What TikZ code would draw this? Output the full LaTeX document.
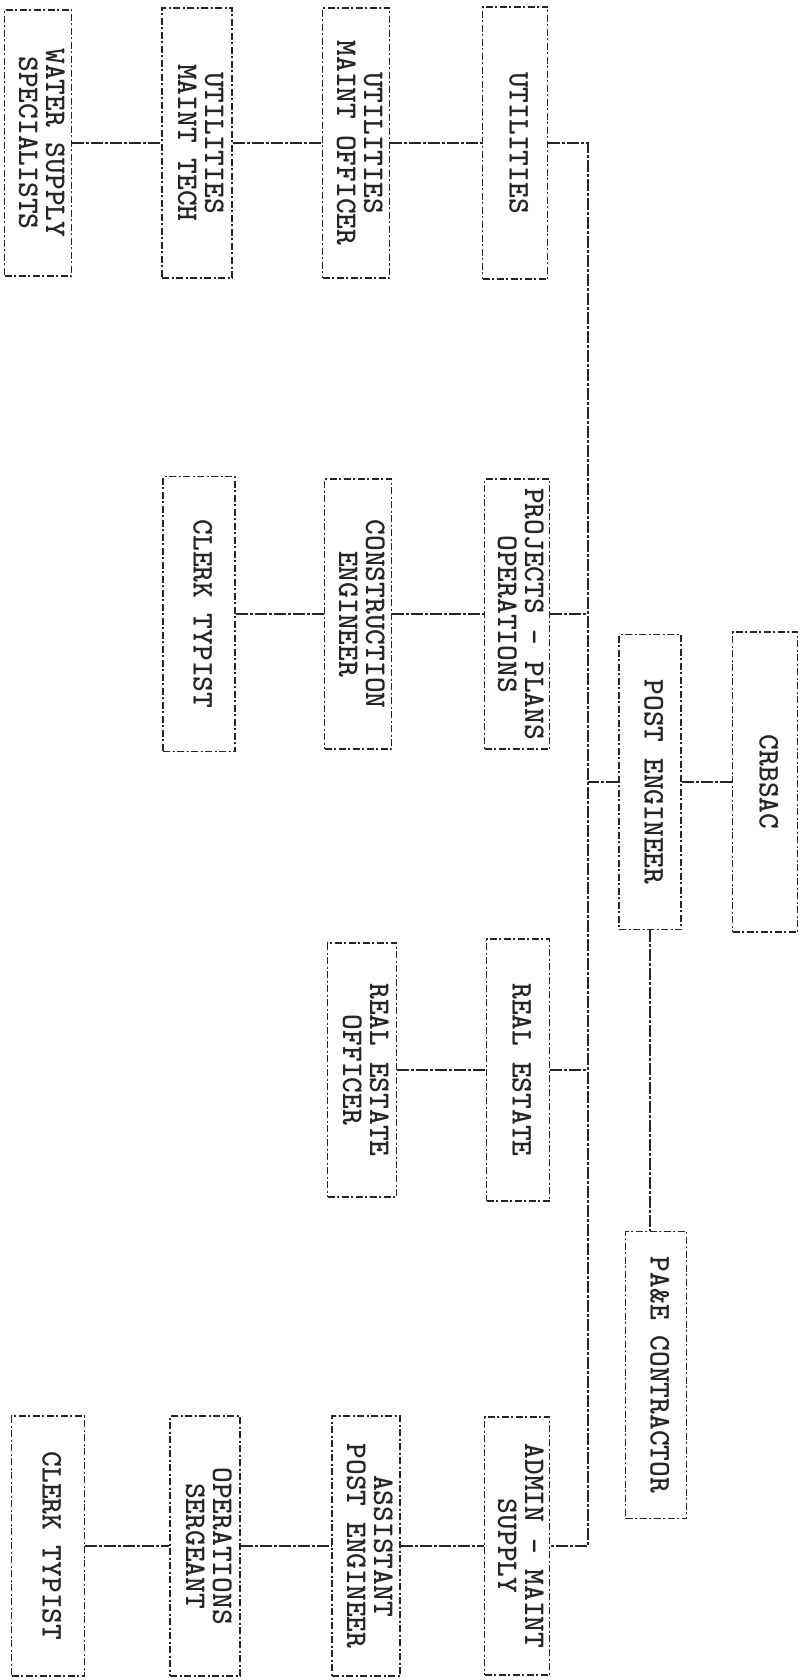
\documentclass[tikz,border=0pt]{standalone}
\usepackage{graphicx}
\newcommand{\rtxt}[1]{\rotatebox{-90}{\begin{tabular}{@{}c@{}}#1\end{tabular}}}
\begin{document}
\begin{tikzpicture}[x=1pt,y=-1pt,
  box/.style={draw=black!85, line width=1.4pt, dash pattern=on 7pt off 2.5pt on 2pt off 2.5pt,
    inner sep=0pt, font=\fontsize{30}{27}\selectfont\ttfamily\bfseries, text=black!85},
  link/.style={draw=black!85, line width=1.5pt, dash pattern=on 12pt off 2pt on 3pt off 2pt}]
\fill[white] (0,0) rectangle (810,1680);
\useasboundingbox (0,0) rectangle (810,1680);
% top row
\node[box, minimum width=67pt, minimum height=266pt] (water) at (38,143) {\rtxt{WATER SUPPLY\\SPECIALISTS}};
\node[box, minimum width=70pt, minimum height=270pt] (umt) at (197,143) {\rtxt{UTILITIES\\MAINT TECH}};
\node[box, minimum width=67pt, minimum height=270pt] (umo) at (356,143) {\rtxt{UTILITIES\\MAINT OFFICER}};
\node[box, minimum width=65pt, minimum height=272pt] (util) at (515,143) {\rtxt{UTILITIES}};
% second row
\node[box, minimum width=72pt, minimum height=275pt] (clerka) at (199,614) {\rtxt{CLERK TYPIST}};
\node[box, minimum width=67pt, minimum height=270pt] (constr) at (358,614) {\rtxt{CONSTRUCTION\\ENGINEER}};
\node[box, minimum width=65pt, minimum height=270pt] (proj) at (517,614) {\rtxt{PROJECTS - PLANS\\OPERATIONS}};
% head
\node[box, minimum width=62pt, minimum height=295pt] (pe) at (650,782) {\rtxt{POST ENGINEER}};
\node[box, minimum width=65pt, minimum height=300pt] (crbsac) at (765,782) {\rtxt{CRBSAC}};
% real estate row
\node[box, minimum width=69pt, minimum height=254pt] (reo) at (362,1070) {\rtxt{REAL ESTATE\\OFFICER}};
\node[box, minimum width=63pt, minimum height=262pt] (re) at (518,1070) {\rtxt{REAL ESTATE}};
\node[box, minimum width=61pt, minimum height=287pt] (pae) at (656,1375) {\rtxt{PA\&E CONTRACTOR}};
% bottom row
\node[box, minimum width=73pt, minimum height=260pt] (clerkb) at (48,1546) {\rtxt{CLERK TYPIST}};
\node[box, minimum width=70pt, minimum height=260pt] (ops) at (205,1546) {\rtxt{OPERATIONS\\SERGEANT}};
\node[box, minimum width=68pt, minimum height=260pt] (asst) at (366,1546) {\rtxt{ASSISTANT\\POST ENGINEER}};
\node[box, minimum width=65pt, minimum height=258pt] (admin) at (517,1546) {\rtxt{ADMIN - MAINT\\SUPPLY}};
% bus
\coordinate (bustop) at (588,143);
\coordinate (busbot) at (588,1546);
\draw[link] (util.east) -- (bustop) -- (busbot) -- (admin.east);
\draw[link] (proj.east) -- (proj.east -| bustop);
\draw[link] (re.east) -- (re.east -| bustop);
\draw[link] (pe.west) -- (pe.west -| bustop);
\draw[link] (crbsac.west) -- (pe.east);
\draw[link] (pe.south) -- (pe.south |- pae.north);
% rows
\draw[link] (water.east) -- (umt.west);
\draw[link] (umt.east) -- (umo.west);
\draw[link] (umo.east) -- (util.west);
\draw[link] (clerka.east) -- (constr.west);
\draw[link] (constr.east) -- (proj.west);
\draw[link] (reo.east) -- (re.west);
\draw[link] (clerkb.east) -- (ops.west);
\draw[link] (ops.east) -- (asst.west);
\draw[link] (asst.east) -- (admin.west);
\end{tikzpicture}
\end{document}
